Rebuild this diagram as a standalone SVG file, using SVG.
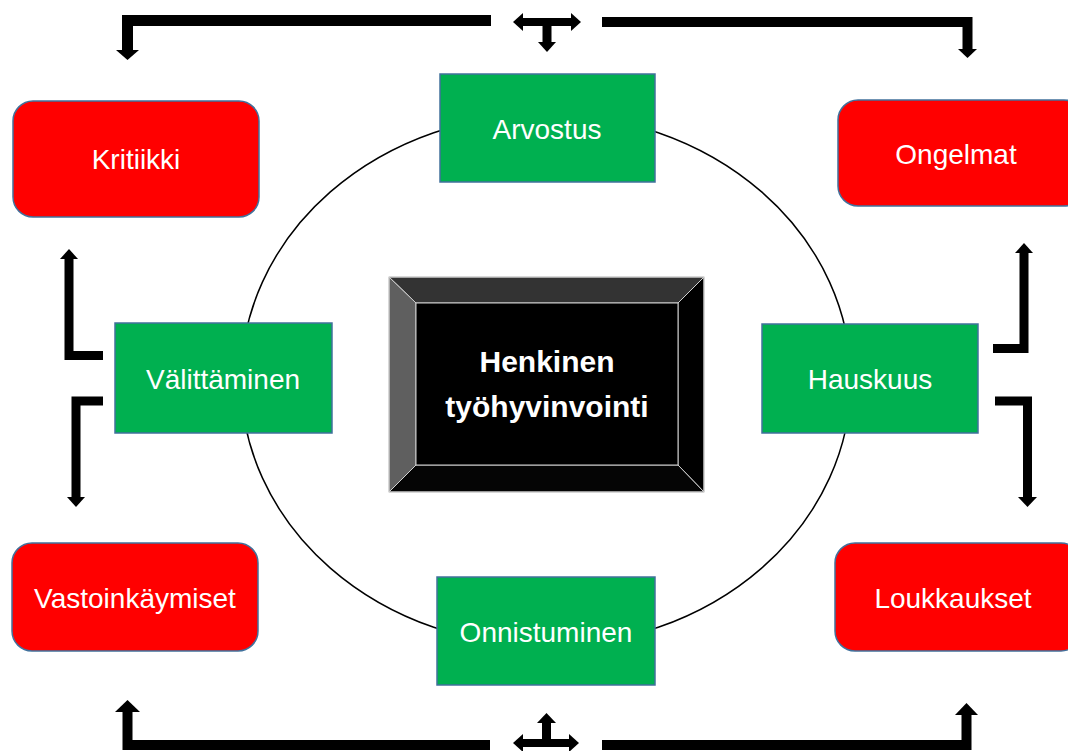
<svg xmlns="http://www.w3.org/2000/svg" width="1068" height="751" viewBox="0 0 1068 751">
<style>
.red{fill:#FF0000;stroke:#41719C;stroke-width:1.5}
.green{fill:#00B050;stroke:#41719C;stroke-width:1.5}
.lbl{font-family:"Liberation Sans",Arial,sans-serif;font-size:28px;fill:#FFFFFF;text-anchor:middle}
.ctr{font-family:"Liberation Sans",Arial,sans-serif;font-size:30px;font-weight:bold;fill:#FFFFFF;text-anchor:middle}
.line{fill:none;stroke:#000;stroke-linejoin:miter;stroke-linecap:butt}
.head{fill:#000}
.bev{stroke:#D0D0D0;stroke-width:1}
</style>
<rect width="1068" height="751" fill="#FFFFFF"/>
<ellipse id="ring" cx="546" cy="380" rx="305" ry="266" fill="none" stroke="#000" stroke-width="1.5"/>
<g id="connectors">
  <path class="line" stroke-width="11" d="M491 20.5H127.5V50"/>
  <polygon class="head" points="116,50 139,50 127.5,60"/>
  <path class="line" stroke-width="10" d="M602 22H967.5V49"/>
  <polygon class="head" points="958,49 977,49 967.5,58"/>
  <path class="line" stroke-width="8" d="M521 22H573"/>
  <polygon class="head" points="513,22 523,13 523,31"/>
  <polygon class="head" points="581,22 571,13 571,31"/>
  <path class="line" stroke-width="9" d="M547 22V43"/>
  <polygon class="head" points="538,42 556,42 547,52"/>
  <path class="line" stroke-width="10" d="M490 745H127.5V711"/>
  <polygon class="head" points="115,712 140,712 127.5,700"/>
  <path class="line" stroke-width="10" d="M602 745H966.5V714"/>
  <polygon class="head" points="955,715 978,715 966.5,703"/>
  <path class="line" stroke-width="9" d="M546.5 743V722"/>
  <polygon class="head" points="537,723 556,723 546.5,713"/>
  <path class="line" stroke-width="8" d="M521 743H571"/>
  <polygon class="head" points="513,743 523,734 523,752"/>
  <polygon class="head" points="579,743 569,734 569,752"/>
  <path class="line" stroke-width="9" d="M103 355.5H69V258"/>
  <polygon class="head" points="60,259 78,259 69,249"/>
  <path class="line" stroke-width="9" d="M103 401H76V498"/>
  <polygon class="head" points="67,497 85,497 76,507"/>
  <path class="line" stroke-width="9" d="M993 348.5H1024V252"/>
  <polygon class="head" points="1015,253 1033,253 1024,243"/>
  <path class="line" stroke-width="9" d="M995 401H1027.5V498"/>
  <polygon class="head" points="1018,497 1037,497 1027.5,507"/>
</g>
<g id="center">
  <polygon points="389,277 704,277 678,303 416,303" fill="#333333" class="bev"/>
  <polygon points="389,277 416,303 416,465 389,492" fill="#5F5F5F" class="bev"/>
  <polygon points="704,277 704,492 678,465 678,303" fill="#000000" class="bev"/>
  <polygon points="389,492 416,465 678,465 704,492" fill="#050505" class="bev"/>
  <rect x="416" y="303" width="262" height="162" fill="#000000" class="bev"/>
  <rect x="389" y="277" width="315" height="215" fill="none" stroke="#C8C8C8" stroke-width="1"/>
  <text class="ctr" x="547" y="372">Henkinen</text>
  <text class="ctr" x="547" y="417">työhyvinvointi</text>
</g>
<g id="kritiikki">
  <rect class="red" x="13" y="101" width="246" height="116" rx="20"/>
  <text class="lbl" x="136" y="169">Kritiikki</text>
</g>
<g id="ongelmat">
  <rect class="red" x="838" y="100" width="246" height="106" rx="20"/>
  <text class="lbl" x="956" y="164">Ongelmat</text>
</g>
<g id="vastoinkaymiset">
  <rect class="red" x="12" y="543" width="246" height="108" rx="20"/>
  <text class="lbl" x="135" y="608">Vastoinkäymiset</text>
</g>
<g id="loukkaukset">
  <rect class="red" x="835" y="543" width="246" height="108" rx="20"/>
  <text class="lbl" x="953" y="608">Loukkaukset</text>
</g>
<g id="arvostus">
  <rect class="green" x="440" y="74" width="215" height="108"/>
  <text class="lbl" x="547" y="139">Arvostus</text>
</g>
<g id="valittaminen">
  <rect class="green" x="115" y="323" width="217" height="110"/>
  <text class="lbl" x="223" y="389">Välittäminen</text>
</g>
<g id="hauskuus">
  <rect class="green" x="762" y="324" width="216" height="109"/>
  <text class="lbl" x="870" y="389">Hauskuus</text>
</g>
<g id="onnistuminen">
  <rect class="green" x="437" y="577" width="218" height="108"/>
  <text class="lbl" x="546" y="642">Onnistuminen</text>
</g>
</svg>
